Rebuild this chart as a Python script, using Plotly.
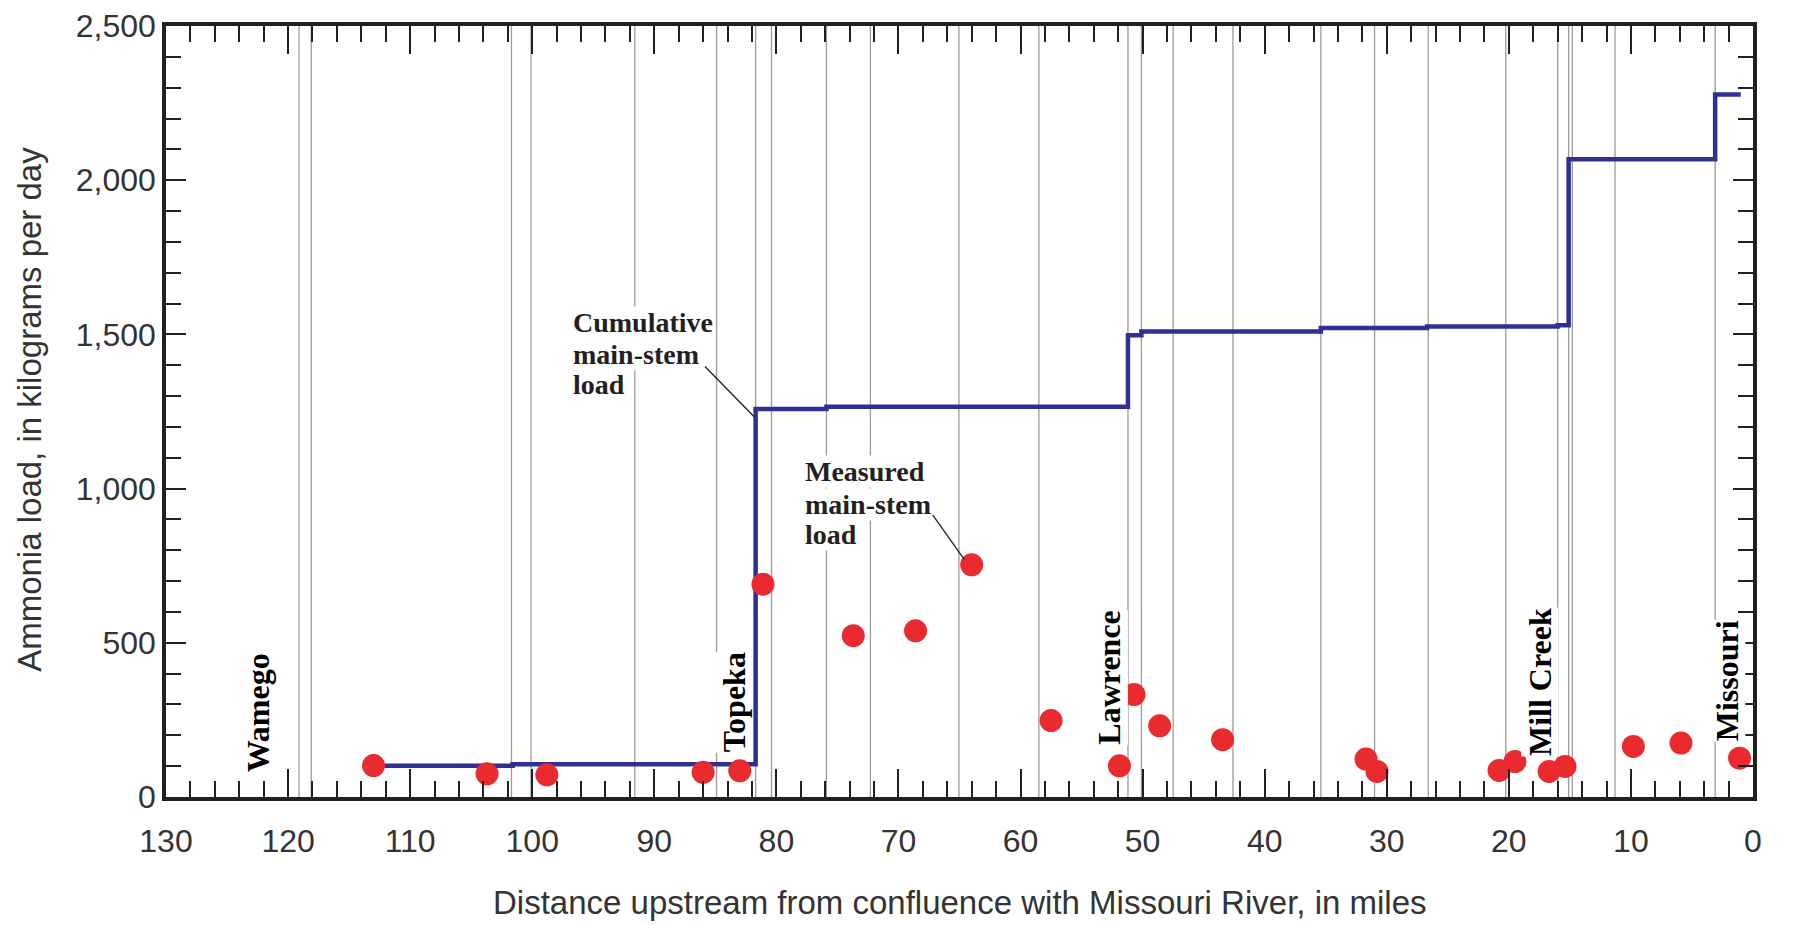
import plotly.graph_objects as go

# ---------------- data ----------------
# Measured main-stem ammonia load (red points)
meas_miles = [113.0, 103.7, 98.8, 86.0, 83.0, 81.1, 73.7, 68.6, 64.0, 57.5, 51.9, 50.7,
              48.6, 43.45, 31.7, 30.8, 20.8, 19.5, 16.7, 15.4, 9.8, 5.9, 1.1]
meas_load = [102, 75, 72, 80, 85, 690, 523, 539, 753, 248, 101, 332,
             231, 186, 123, 83, 86, 115, 83, 99, 164, 175, 126]

# Cumulative main-stem load (step line)
cum_miles = [112.4, 101.6, 81.7, 75.9, 51.2, 50.1, 35.4, 26.7, 16.0, 15.1, 3.1, 1.0]
cum_load = [101, 106, 1258, 1265, 1497, 1509, 1521, 1526, 1530, 2068, 2278, 2278]

# Tributary / inflow locations (gray vertical lines)
trib_miles = [119.1, 118.1, 101.7, 100.1, 91.6, 84.9, 81.7, 80.4, 75.9, 72.3, 65.05,
              58.5, 51.2, 50.1, 47.5, 42.6, 35.4, 31.0, 26.6, 20.25, 16.0, 15.1, 14.8,
              11.3, 3.1]

# Place labels (mile, load position)
place_names = ["Wamego", "Topeka", "Lawrence", "Mill Creek", "Missouri"]
place_miles = [122.5, 83.5, 52.75, 17.5, 2.17]
place_loads = [273, 306, 387, 374, 377]

x_tickvals = [130, 120, 110, 100, 90, 80, 70, 60, 50, 40, 30, 20, 10, 0]
x_ticktext = ["130", "120", "110", "100", "90", "80", "70", "60", "50", "40", "30", "20", "10", "0"]
y_tickvals = [0, 500, 1000, 1500, 2000, 2500]
y_ticktext = ["0", "500", "1,000", "1,500", "2,000", "2,500"]

# ---------------- styling ----------------
SANS = "Liberation Sans, Arial, sans-serif"
SERIF = "Liberation Serif, Times New Roman, serif"
AX = "#231F20"
TXT = "#333333"
GRAY = "#9B9B9B"
NAVY = "#2E3192"
RED = "#E92A2F"

# the page body has an 8px margin: figure is sized so the plot area lands where the reference has it
PL, PR, PT, PB = 166, 1753, 26, 797.3   # plot area in window pixels
W, H = 1787, 917


def px_to_paper_x(px):
    return (px - PL) / (PR - PL)


def px_to_paper_y(py):
    return (PB - py) / (PB - PT)


fig = go.Figure()

fig.add_trace(go.Scatter(
    x=cum_miles, y=cum_load, mode="lines", line=dict(color=NAVY, width=4.5, shape="hv"),
    showlegend=False, hoverinfo="skip"))

fig.add_trace(go.Scatter(
    x=meas_miles, y=meas_load, mode="markers",
    marker=dict(color=RED, size=23, line=dict(width=0)),
    showlegend=False))

shapes = []
for m in trib_miles:
    shapes.append(dict(type="line", xref="x", yref="y", x0=m, x1=m, y0=0, y1=2500,
                       line=dict(color=GRAY, width=1.3), layer="below"))

# leader lines
shapes.append(dict(type="line", xref="x", yref="y", x0=85.85, y0=1396, x1=81.8, y1=1232,
                   line=dict(color=AX, width=1.3)))
shapes.append(dict(type="line", xref="x", yref="y", x0=67.2, y0=915, x1=64.6, y1=770,
                   line=dict(color=AX, width=1.3)))

# navy edge at the right border of the picture
shapes.append(dict(type="rect", xref="paper", yref="paper",
                   x0=px_to_paper_x(1791), x1=px_to_paper_x(1800),
                   y0=px_to_paper_y(930), y1=px_to_paper_y(823),
                   line=dict(width=0), fillcolor="#1B1F7A"))
shapes.append(dict(type="line", xref="paper", yref="paper",
                   x0=px_to_paper_x(1794.5), x1=px_to_paper_x(1794.5),
                   y0=px_to_paper_y(823), y1=px_to_paper_y(8),
                   line=dict(color="#1B1F7A", width=1.5)))

annotations = []
# Cumulative main-stem load label
for txt, yv in zip(["Cumulative", "main-stem", "load"], [1537, 1434, 1338]):
    annotations.append(dict(x=96.75, y=yv, xref="x", yref="y", text=txt, showarrow=False,
                            xanchor="left", yanchor="middle", bgcolor="white", borderpad=0,
                            font=dict(family=SERIF, size=28, color=AX, weight="bold")))
# Measured main-stem load label
for txt, yv in zip(["Measured", "main-stem", "load"], [1055, 947, 852]):
    annotations.append(dict(x=77.7, y=yv, xref="x", yref="y", text=txt, showarrow=False,
                            xanchor="left", yanchor="middle", bgcolor="white", borderpad=0,
                            font=dict(family=SERIF, size=28, color=AX, weight="bold")))
# place names
for name, m, v in zip(place_names, place_miles, place_loads):
    annotations.append(dict(x=m, y=v, xref="x", yref="y", text=name, showarrow=False,
                            textangle=-90, xanchor="center", yanchor="middle",
                            bgcolor="white", borderpad=0,
                            font=dict(family=SERIF, size=32, color="#000000", weight="bold")))
# axis titles
annotations.append(dict(x=0.5, y=px_to_paper_y(903), xref="paper", yref="paper",
                        text="Distance upstream from confluence with Missouri River, in miles",
                        showarrow=False, xanchor="center", yanchor="middle",
                        font=dict(family=SANS, size=33, color=TXT)))
annotations.append(dict(x=px_to_paper_x(30), y=px_to_paper_y(410), xref="paper", yref="paper",
                        text="Ammonia load, in kilograms per day", textangle=-90,
                        showarrow=False, xanchor="center", yanchor="middle",
                        font=dict(family=SANS, size=33, color=TXT)))

axis_common = dict(showgrid=False, zeroline=False, showline=True, linewidth=3.5,
                   linecolor=AX, mirror="ticks", ticks="inside", tickwidth=2,
                   tickcolor=AX, tickfont=dict(family=SANS, size=32, color=TXT))

fig.update_layout(
    width=W, height=H,
    margin=dict(l=PL - 8, r=W - (PR - 8), t=PT - 8, b=H - (PB - 8), autoexpand=False),
    paper_bgcolor="white", plot_bgcolor="white",
    xaxis=dict(range=[130, 0], autorange=False, tickmode="array", tickvals=x_tickvals,
               ticktext=x_ticktext, ticklen=28, ticklabelstandoff=13,
               minor=dict(dtick=2, tick0=0, ticks="inside", ticklen=16, tickwidth=2,
                          tickcolor=AX, showgrid=False),
               **axis_common),
    yaxis=dict(range=[0, 2500], autorange=False, tickmode="array", tickvals=y_tickvals,
               ticktext=y_ticktext, ticklen=20, ticklabelstandoff=0,
               minor=dict(dtick=100, tick0=0, ticks="inside", ticklen=15, tickwidth=2,
                          tickcolor=AX, showgrid=False),
               **axis_common),
    shapes=shapes,
    annotations=annotations,
    showlegend=False,
)

fig.write_html("out.html")
